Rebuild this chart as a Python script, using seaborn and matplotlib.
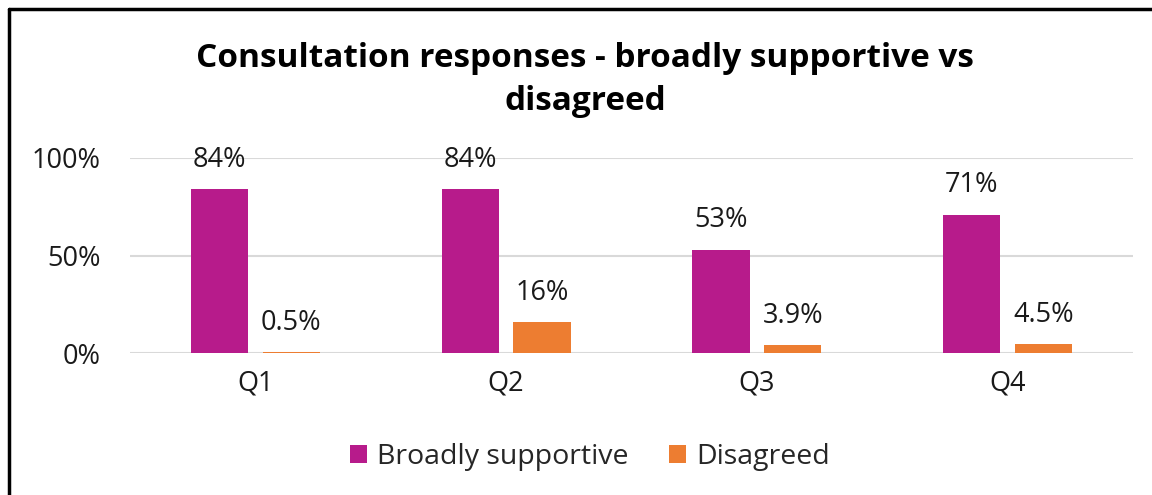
import matplotlib
matplotlib.use("Agg")
import matplotlib.pyplot as plt
from matplotlib.lines import Line2D
import seaborn as sns
import pandas as pd

categories = ["Q1", "Q2", "Q3", "Q4"]
supportive = [84, 84, 53, 71]
disagreed = [0.5, 16, 3.9, 4.5]
supportive_labels = ["84%", "84%", "53%", "71%"]
disagreed_labels = ["0.5%", "16%", "3.9%", "4.5%"]
series_names = ["Broadly supportive", "Disagreed"]
ytick_vals = [0, 50, 100]
ytick_labels = ["0%", "50%", "100%"]
title = "Consultation responses - broadly supportive vs\ndisagreed"

df = pd.DataFrame({
    "cat": categories * 2,
    "val": supportive + disagreed,
    "series": [series_names[0]] * 4 + [series_names[1]] * 4,
    "label": supportive_labels + disagreed_labels,
})

sns.set_theme(style="white")
plt.rcParams["font.family"] = ["Open Sans", "DejaVu Sans"]

fig = plt.figure(figsize=(11.52, 4.95), dpi=100)
ax = fig.add_axes([130 / 1152, 1 - 353 / 495, 1003 / 1152, 195 / 495])

colors = ["#B71B8B", "#ED7D31"]
sns.barplot(data=df, x="cat", y="val", hue="series", palette=colors,
            width=0.572, gap=0.2, ax=ax, legend=True, saturation=1,
            linewidth=0, edgecolor="none")

for cont, lab in zip(ax.containers, [supportive_labels, disagreed_labels]):
    ax.bar_label(cont, labels=lab, padding=11, fontsize=19.5, color="#1a1a1a")

ax.set_ylim(0, 100)
ax.set_xlim(-0.5, 3.5)
ax.set_yticks(ytick_vals)
ax.set_yticklabels(ytick_labels, fontsize=19.5, color="#1a1a1a")
ax.tick_params(axis="x", labelsize=19.5, colors="#1a1a1a", pad=12, length=0)
ax.tick_params(axis="y", pad=21, length=0)
ax.set_xlabel("")
ax.set_ylabel("")
ax.yaxis.grid(True, color="#d9d9d9", linewidth=1.5)
ax.set_axisbelow(True)
for s in ax.spines.values():
    s.set_visible(False)

handles, labels = ax.get_legend_handles_labels()
ax.get_legend().remove()
fig.legend(handles, labels, loc="center", bbox_to_anchor=(590 / 1152, 1 - 457 / 495),
           ncol=2, frameon=False, fontsize=20.5, handlelength=0.6, handleheight=0.6,
           handletextpad=0.35, columnspacing=1.4)

fig.text(585 / 1152, 1 - 80 / 495, title, ha="center", va="center",
         fontsize=24, fontweight="bold", linespacing=1.42, color="black")

fig.add_artist(Line2D([9 / 1152, 9 / 1152], [0, 1 - 9 / 495], transform=fig.transFigure,
                      color="black", linewidth=2.5))
fig.add_artist(Line2D([9 / 1152, 1], [1 - 9 / 495, 1 - 9 / 495], transform=fig.transFigure,
                      color="black", linewidth=2.5))

fig.savefig("out.png", dpi=100)
